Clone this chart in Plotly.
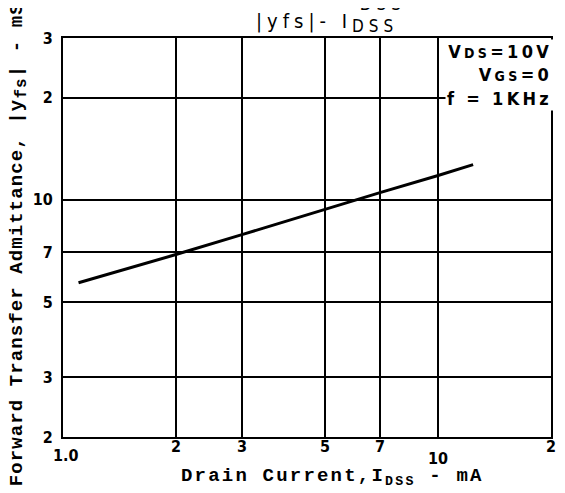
import math
import plotly.graph_objects as go

# Data (log-log)
idss_ma = [1.1, 2, 3, 5, 7, 10, 12.4]
yfs_ms = [5.7, 6.9, 7.9, 9.4, 10.5, 11.8, 12.7]

x_tick_vals = [1, 2, 3, 5, 7, 10, 20]
x_tick_text = ["1.0", "2", "3", "5", "7", "10", "2"]
y_tick_vals = [2, 3, 5, 7, 10, 20, 30]
y_tick_text = ["2", "3", "5", "7", "10", "2", "3"]

cond_lines = ["V<span style=\"font-size:14px\">DS</span>=10V",
              "V<span style=\"font-size:14px\">GS</span>=0",
              "f = 1KHz"]

# page has an 8px body margin; work in page pixel coordinates
O = 8
W, H = 565 - O, 493 - O
L, R, T, B = 63 - O, 12, 38 - O, 56
PW, PH = W - L - R, H - T - B


def px(xp):
    return (xp - O - L) / PW


def py(yp):
    return (T + PH - (yp - O)) / PH


def ls(text, sp):
    return '<span style="letter-spacing:%spx">%s</span>' % (sp, text)


MONO = "Liberation Mono, Courier New, monospace"
SANS = "DejaVu Sans Condensed, DejaVu Sans, sans-serif"
TICK = "Liberation Sans Narrow, DejaVu Sans Condensed, Liberation Sans, sans-serif"

fig = go.Figure()
fig.add_trace(go.Scatter(x=idss_ma, y=yfs_ms, mode="lines",
                         line=dict(color="black", width=3),
                         showlegend=False, hoverinfo="skip"))

axis_common = dict(type="log", showgrid=True, gridcolor="black", gridwidth=2,
                   showline=True, linecolor="black", linewidth=2, mirror=True,
                   ticks="", zeroline=False)

fig.update_xaxes(range=[0, math.log10(20)], tickvals=x_tick_vals,
                 showticklabels=False, **axis_common)
fig.update_yaxes(range=[math.log10(2), math.log10(30)], tickvals=y_tick_vals,
                 ticktext=y_tick_text, ticklabelstandoff=5,
                 tickfont=dict(family=TICK, size=16, color="black", weight="bold"),
                 **axis_common)

ann = []
# x tick labels (some are offset in the original)
for v, t in zip(x_tick_vals, x_tick_text):
    dy = 0
    dx = 0
    if t == "1.0":
        dy, dx = -9, 3
    elif v == 10:
        dy = -12
    ann.append(dict(x=math.log10(v), xref="x", y=py(447), yref="paper",
                    text=t, showarrow=False, xanchor="center", yanchor="middle",
                    xshift=dx, yshift=dy,
                    font=dict(family=TICK, size=16, color="black", weight="bold")))

SUB = '<sub><span style="font-size:17px">%s</span></sub>'

# title
ann.append(dict(x=px(328), y=py(23), xref="paper", yref="paper",
                text=ls("|yfs|- I" + SUB % "DSS", 5), showarrow=False,
                xanchor="center", yanchor="middle",
                font=dict(family=SANS, size=20, color="black")))
# cut-off upper title line
ann.append(dict(x=px(368), y=py(16), xref="paper", yref="paper",
                text=ls(", I" + SUB % "DSS", 5), showarrow=False,
                xanchor="center", yanchor="bottom",
                font=dict(family=SANS, size=20, color="black")))

# axis titles
ann.append(dict(x=px(334), y=py(477), xref="paper", yref="paper",
                text=ls("Drain Current,I<sub>DSS</sub> - mA", 2.2), showarrow=False,
                xanchor="center", yanchor="middle",
                font=dict(family=MONO, size=19, color="black", weight="bold")))
ann.append(dict(x=px(18), y=py(244), xref="paper", yref="paper",
                text=ls("Forward Transfer Admittance, |y"
                        '<sub><span style="font-size:16px">fs</span></sub>| - mS', 1.1),
                showarrow=False, textangle=-90,
                xanchor="center", yanchor="middle",
                font=dict(family=MONO, size=19, color="black", weight="bold")))

# conditions box
ann.append(dict(x=px(556), y=py(75), xref="paper", yref="paper",
                text="<br>".join(ls(c, 3.3) for c in cond_lines),
                showarrow=False, align="right",
                xanchor="right", yanchor="middle", bgcolor="white", borderpad=1,
                font=dict(family=SANS, size=18, color="black", weight="bold")))

fig.update_layout(width=W, height=H, margin=dict(l=L, r=R, t=T, b=B),
                  paper_bgcolor="white", plot_bgcolor="white",
                  annotations=ann)

fig.write_html("out.html")
